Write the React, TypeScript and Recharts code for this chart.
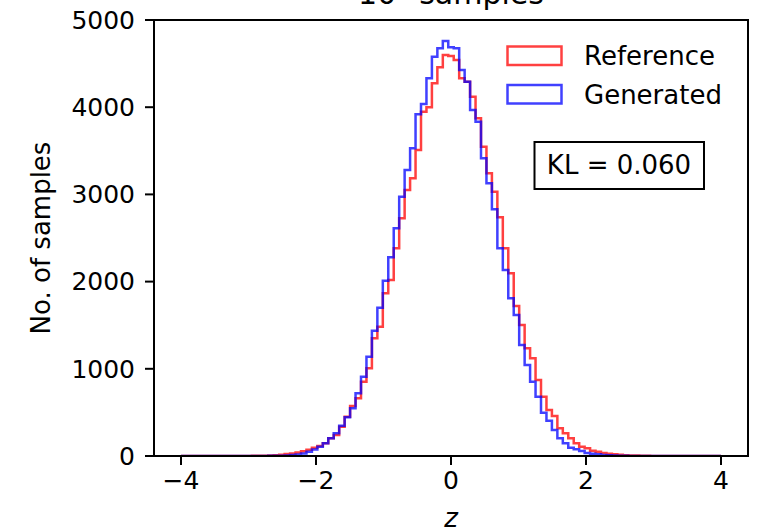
import { LineChart, Line, XAxis, YAxis } from "recharts";

// histogram counts per bin, bins = linspace(-4, 4, 100)
const REFERENCE = [
  0, 0, 0, 0, 0, 0, 0, 0, 0, 0, 0, 1, 1, 2, 2, 3, 6, 10, 15, 22,
  30, 40, 55, 72, 95, 115, 145, 203, 241, 336, 451, 573, 661, 852, 1006, 1350, 1483, 1866, 2018, 2382,
  2726, 3050, 3185, 3509, 3948, 3999, 4274, 4457, 4599, 4587, 4541, 4331, 4293, 4121, 3873, 3547, 3242, 3031, 2737, 2382,
  2095, 1720, 1502, 1235, 1120, 872, 680, 528, 459, 317, 260, 203, 145, 107, 88, 61, 50, 34, 27, 19,
  14, 10, 7, 5, 3, 2, 1, 1, 0, 0, 0, 0, 0, 0, 0, 0, 0, 0, 0,
];
const GENERATED = [
  0, 0, 0, 0, 0, 0, 0, 0, 0, 0, 0, 0, 0, 0, 0, 1, 2, 3, 4, 7,
  11, 18, 30, 48, 75, 105, 145, 203, 260, 348, 443, 547, 719, 910, 1139, 1437, 1701, 2011, 2278, 2611,
  2974, 3280, 3529, 3919, 4037, 4331, 4579, 4675, 4759, 4687, 4675, 4427, 4292, 3968, 3834, 3414, 3127, 2829, 2382, 2133,
  1808, 1617, 1273, 1044, 852, 680, 497, 405, 298, 203, 145, 96, 77, 57, 34, 27, 19, 12, 8, 5,
  3, 2, 1, 0, 0, 0, 0, 0, 0, 0, 0, 0, 0, 0, 0, 0, 0, 0, 0,
];
const BIN_MIN = -4;
const BIN_MAX = 4;
const X_TICKS = [-4, -2, 0, 2, 4];
const Y_TICKS = [0, 1000, 2000, 3000, 4000, 5000];

const W = 759;
const H = 531;
const M = { top: 20, right: 11, left: 0, bottom: 0 };
const Y_AXIS_W = 154;
const X_AXIS_H = 75;
const FONT = "DejaVu Sans";

const nBins = REFERENCE.length;
const step = (BIN_MAX - BIN_MIN) / nBins;
const data = REFERENCE.map((r, i) => ({
  x: BIN_MIN + i * step,
  ref: r,
  gen: GENERATED[i],
}));
data.push({ x: BIN_MAX, ref: REFERENCE[nBins - 1], gen: GENERATED[nBins - 1] });

const fmt = (v: number) => (v < 0 ? `\u2212${Math.abs(v)}` : `${v}`);

export default function App() {
  const plotL = M.left + Y_AXIS_W;
  const plotT = M.top;
  const plotR = W - M.right;
  const plotB = H - M.bottom - X_AXIS_H;
  return (
    <div style={{ position: "fixed", left: 0, top: 0, width: W, height: H, background: "#fff" }}>
      <LineChart width={W} height={H} data={data} margin={M}>
        <XAxis
          type="number"
          dataKey="x"
          domain={[-4.4, 4.4]}
          ticks={X_TICKS}
          tickFormatter={fmt}
          height={X_AXIS_H}
          axisLine={false}
          tickSize={9}
          tickMargin={6}
          tickLine={{ stroke: "#000", strokeWidth: 2 }}
          tick={{ fill: "#000", fontSize: 25, fontFamily: FONT }}
          allowDataOverflow
        />
        <YAxis
          type="number"
          domain={[0, 5000]}
          ticks={Y_TICKS}
          width={Y_AXIS_W}
          axisLine={false}
          tickSize={9}
          tickMargin={10}
          tickLine={{ stroke: "#000", strokeWidth: 2 }}
          tick={{ fill: "#000", fontSize: 25, fontFamily: FONT }}
          allowDataOverflow
        />
        <Line
          type="stepAfter"
          dataKey="ref"
          stroke="#ff0000"
          strokeOpacity={0.75}
          strokeWidth={2.5}
          dot={false}
          isAnimationActive={false}
        />
        <Line
          type="stepAfter"
          dataKey="gen"
          stroke="#0000ff"
          strokeOpacity={0.75}
          strokeWidth={2.5}
          dot={false}
          isAnimationActive={false}
        />
      </LineChart>
      <svg
        width={W}
        height={H}
        style={{ position: "absolute", left: 0, top: 0, pointerEvents: "none" }}
        fontFamily={FONT}
      >
        <rect
          x={plotL}
          y={plotT}
          width={plotR - plotL}
          height={plotB - plotT}
          fill="none"
          stroke="#000"
          strokeWidth={2}
        />
        <text x={(plotL + plotR) / 2} y={4} textAnchor="middle" fontSize={30}>
          10<tspan dy={-11} fontSize={21}>5</tspan>
          <tspan dy={11}> samples</tspan>
        </text>
        <text
          transform={`translate(50, ${(plotT + plotB) / 2}) rotate(-90)`}
          textAnchor="middle"
          fontSize={26}
        >
          No. of samples
        </text>
        <text x={(plotL + plotR) / 2} y={527} textAnchor="middle" fontSize={26} fontStyle="italic">
          z
        </text>
        <rect x={507.5} y={46.5} width={54} height={18.5} fill="none" stroke="#ff0000" strokeOpacity={0.75} strokeWidth={2.5} />
        <text x={584} y={65} fontSize={26}>Reference</text>
        <rect x={507.5} y={85} width={54} height={18.5} fill="none" stroke="#0000ff" strokeOpacity={0.75} strokeWidth={2.5} />
        <text x={584} y={103.5} fontSize={26}>Generated</text>
        <rect x={534.5} y={142} width={169.5} height={47} fill="#fff" stroke="#000" strokeWidth={2} />
        <text x={619} y={173.5} textAnchor="middle" fontSize={26}>KL = 0.060</text>
      </svg>
    </div>
  );
}
